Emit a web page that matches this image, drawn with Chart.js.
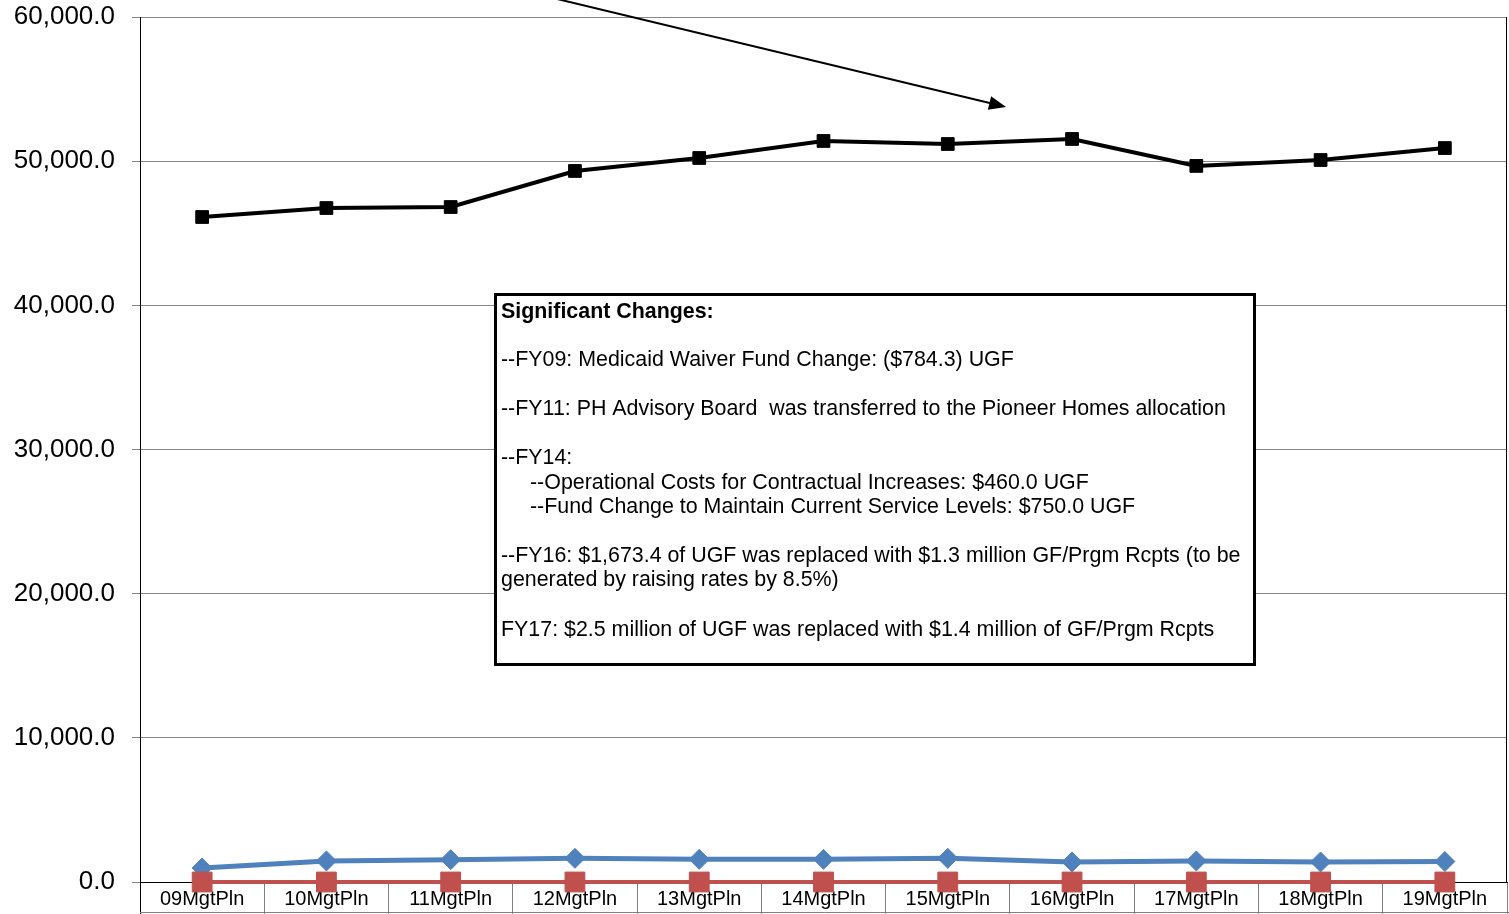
<!DOCTYPE html>
<html>
<head>
<meta charset="utf-8">
<script src="https://cdn.jsdelivr.net/npm/chart.js@4.4.1/dist/chart.umd.min.js"></script>
<style>
  html, body { margin: 0; padding: 0; background: #fff; }
  #wrap { width: 1509px; height: 914px; }
</style>
</head>
<body>
<div id="wrap"><canvas id="graph" width="1509" height="914"></canvas></div>
<script>
const labels = ['09MgtPln', '10MgtPln', '11MgtPln', '12MgtPln', '13MgtPln', '14MgtPln',
                '15MgtPln', '16MgtPln', '17MgtPln', '18MgtPln', '19MgtPln']

const totalFunds = [46126, 46750, 46820, 49320, 50220, 51400, 51190, 51540, 49670, 50080, 50910]
const otherFunds = [970, 1460, 1550, 1640, 1570, 1570, 1640, 1390, 1460, 1390, 1420]
const fedFunds = [0, 0, 0, 0, 0, 0, 0, 0, 0, 0, 0]

const yTicks = [0, 10000, 20000, 30000, 40000, 50000, 60000]

const noteLines = [
    { text: 'Significant Changes:', y: 312, bold: true },
    { text: '--FY09: Medicaid Waiver Fund Change: ($784.3) UGF', y: 360 },
    { text: '--FY11: PH Advisory Board  was transferred to the Pioneer Homes allocation', y: 409 },
    { text: '--FY14:', y: 458 },
    { text: '--Operational Costs for Contractual Increases: $460.0 UGF', y: 483, indent: true },
    { text: '--Fund Change to Maintain Current Service Levels: $750.0 UGF', y: 507, indent: true },
    { text: '--FY16: $1,673.4 of UGF was replaced with $1.3 million GF/Prgm Rcpts (to be', y: 556 },
    { text: 'generated by raising rates by 8.5%)', y: 580 },
    { text: 'FY17: $2.5 million of UGF was replaced with $1.4 million of GF/Prgm Rcpts', y: 630 }
]

const FONT = "'Liberation Sans', Arial, sans-serif"

// frame pieces, the note box and the arrow
const extras = {
    id: 'extras',
    afterDraw(chart) {
        const c = chart.ctx
        const a = chart.chartArea
        c.save()
        // right border of the plot
        c.strokeStyle = '#000'
        c.lineWidth = 1
        c.beginPath()
        c.moveTo(a.right - 0.5, a.top)
        c.lineTo(a.right - 0.5, a.bottom)
        c.stroke()
        // left axis runs down through the label row
        c.beginPath()
        c.moveTo(a.left + 0.5, a.bottom)
        c.lineTo(a.left + 0.5, 914)
        c.stroke()
        // bottom of the label row
        c.strokeStyle = '#808080'
        c.beginPath()
        c.moveTo(a.left, 912.5)
        c.lineTo(1509, 912.5)
        c.stroke()

        // note box
        c.fillStyle = '#fff'
        c.fillRect(495, 294, 760, 371)
        c.strokeStyle = '#000'
        c.lineWidth = 3
        c.strokeRect(495.5, 294.5, 759, 370)
        c.fillStyle = '#000'
        c.textBaseline = 'middle'
        c.textAlign = 'left'
        noteLines.forEach(l => {
            c.font = (l.bold ? 'bold ' : '') + '21.4px ' + FONT
            c.fillText(l.text, l.indent ? 530 : 501, l.y)
        })

        // arrow
        const x0 = 553, y0 = -2, x1 = 1006, y1 = 107
        const ang = Math.atan2(y1 - y0, x1 - x0)
        const head = 17
        c.lineWidth = 2
        c.beginPath()
        c.moveTo(x0, y0)
        c.lineTo(x1 - Math.cos(ang) * head * 0.8, y1 - Math.sin(ang) * head * 0.8)
        c.stroke()
        c.beginPath()
        c.moveTo(x1, y1)
        c.lineTo(x1 - head * Math.cos(ang) + 7 * Math.sin(ang), y1 - head * Math.sin(ang) - 7 * Math.cos(ang))
        c.lineTo(x1 - head * Math.cos(ang) - 7 * Math.sin(ang), y1 - head * Math.sin(ang) + 7 * Math.cos(ang))
        c.closePath()
        c.fill()
        c.restore()
    }
}

const data = {
    labels,
    datasets: [
        {
            label: 'Total',
            data: totalFunds,
            borderColor: '#000',
            backgroundColor: '#000',
            borderWidth: 4,
            pointStyle: 'rect',
            pointRadius: 9,
            pointBorderWidth: 1,
            tension: 0,
            clip: false,
            order: 0
        },
        {
            label: 'Federal',
            data: fedFunds,
            borderColor: '#C0504D',
            backgroundColor: '#C0504D',
            borderWidth: 4,
            pointStyle: 'rect',
            pointRadius: 14,
            pointBorderWidth: 1,
            tension: 0,
            clip: false,
            order: 1
        },
        {
            label: 'Other',
            data: otherFunds,
            borderColor: '#4F81BD',
            backgroundColor: '#4F81BD',
            borderWidth: 5,
            pointStyle: 'rectRot',
            pointRadius: 10,
            pointBorderWidth: 1,
            tension: 0,
            clip: false,
            order: 2
        }
    ]
}

const config = {
    type: 'line',
    data: data,
    options: {
        responsive: false,
        animation: false,
        layout: { autoPadding: false, padding: { top: 17, right: 2, left: 0, bottom: 0 } },
        plugins: {
            legend: { display: false },
            tooltip: { enabled: false }
        },
        scales: {
            x: {
                offset: true,
                afterFit(scale) {
                    scale.height = 32
                    scale.paddingLeft = 0
                    scale.paddingRight = 0
                },
                border: { color: '#000', width: 1 },
                grid: {
                    offset: true,
                    drawOnChartArea: false,
                    tickLength: 32,
                    color: '#808080'
                },
                ticks: {
                    color: '#000',
                    padding: -27,
                    maxRotation: 0,
                    autoSkip: false,
                    font: { family: FONT, size: 20 }
                }
            },
            y: {
                min: 0,
                max: 60000,
                afterFit(scale) {
                    scale.width = 140
                    scale.paddingTop = 0
                    scale.paddingBottom = 0
                },
                afterBuildTicks(scale) { scale.ticks = yTicks.map(v => ({ value: v })) },
                border: { color: '#000', width: 1 },
                grid: { color: '#868686', tickLength: 8 },
                ticks: {
                    color: '#000',
                    padding: 17,
                    font: { family: FONT, size: 26 },
                    callback: v => v.toLocaleString('en-US', { minimumFractionDigits: 1, maximumFractionDigits: 1 })
                }
            }
        }
    },
    plugins: [extras]
}

const graph = new Chart(document.getElementById('graph').getContext('2d'), config)
</script>
</body>
</html>
